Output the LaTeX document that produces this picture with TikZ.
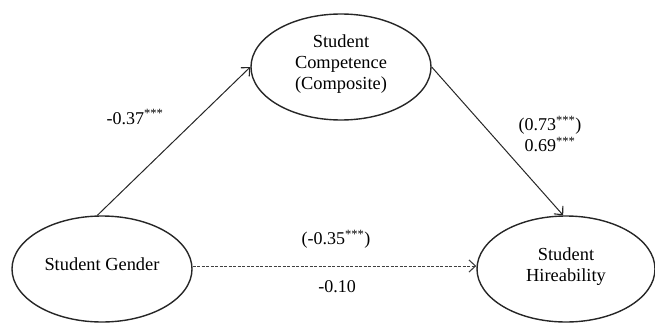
\documentclass[tikz,border=0pt]{standalone}
\usepackage{fontspec}
\setmainfont{Liberation Serif}
\usetikzlibrary{shapes.geometric,arrows.meta}
\begin{document}
\begin{tikzpicture}[x=1pt,y=-1pt,
  latent/.style={ellipse,draw=black!85,line width=1.4pt,inner sep=0pt,
    minimum width=180pt,minimum height=106pt,align=center,
    font=\fontsize{18.4}{21}\selectfont},
  path/.style={draw=black!85,line width=1pt,
    -{Straight Barb[length=6.5pt,width=12pt,line width=1.1pt]}},
  coef/.style={font=\fontsize{18}{21}\selectfont,align=center,inner sep=1pt}]
\useasboundingbox (0,0) rectangle (655,324);
\node[latent] (comp) at (341,67) {Student\\Competence\\(Composite)\\[-12pt]\mbox{}};
\node[latent] (gend) at (102,269) {Student Gender\\[-12pt]\mbox{}};
\node[latent,minimum width=178pt] (hire) at (566,269) {Student\\Hireability\\[-12pt]\mbox{}};
\draw[path] (gend.95) -- (comp.west);
\draw[path] (comp.east) -- (hire.93);
\draw[path,dash pattern=on 3pt off 1.5pt,draw=black!75] (gend.east) ++(0,-3) coordinate (ds) -- (ds -| hire.west);
\node[coef] (a) at (135,117) {-0.37\textsuperscript{***}};
\node[coef] (b) at (550,134) {(0.73\textsuperscript{***})\\0.69\textsuperscript{***}};
\node[coef] (c) at (336,239) {(-0.35\textsuperscript{***})};
\node[coef] (d) at (337,287) {-0.10};
\end{tikzpicture}
\end{document}
